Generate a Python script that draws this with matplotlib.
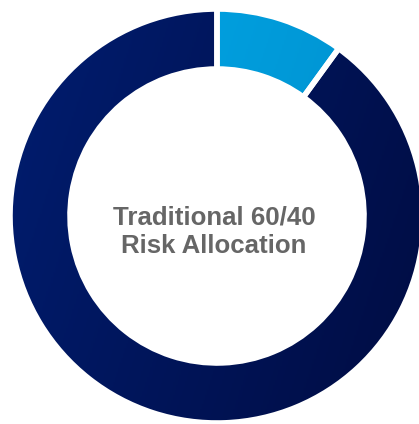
import numpy as np
import matplotlib.pyplot as plt
from matplotlib.colors import LinearSegmentedColormap
from matplotlib.patches import Wedge

labels = ["Bonds", "Equities"]
risk_share = [10, 90]
start_colors = ["#00aaeb", "#001d70"]
end_colors = ["#008bc8", "#000c42"]
center_text = "Traditional 60/40\nRisk Allocation"

W, H = 419, 424
fig = plt.figure(figsize=(W / 100, H / 100), dpi=100)
ax = fig.add_axes([0, 0, 1, 1])

cx, cy, r = 217, H - 216, 207
wedges, _ = ax.pie(risk_share, center=(cx, cy), radius=r, startangle=90,
                   counterclock=False, frame=True,
                   wedgeprops=dict(width=60, edgecolor="white", linewidth=4))
ax.set_xlim(0, W)
ax.set_ylim(0, H)
ax.set_aspect("equal")
ax.axis("off")

# gradient fill, left-top lighter to right-bottom darker
gx, gy = np.meshgrid(np.linspace(0, 1, 256), np.linspace(0, 1, 256))
grad = 0.75 * gx + 0.25 * (1 - gy)
for w, c0, c1 in zip(wedges, start_colors, end_colors):
    w.set_facecolor(c0)
    cmap = LinearSegmentedColormap.from_list("g", [c0, c1])
    im = ax.imshow(grad, cmap=cmap, extent=(cx - r, cx + r, cy - r, cy + r),
                   origin="lower", zorder=w.get_zorder() + 0.1)
    im.set_clip_path(w)
    edge = Wedge(w.center, w.r, w.theta1, w.theta2, width=w.width,
                 facecolor="none", edgecolor="white", linewidth=4,
                 zorder=w.get_zorder() + 0.2)
    ax.add_patch(edge)

ax.text(214, cy - 16, center_text, ha="center", va="center",
        fontsize=18.6, fontweight="bold", color="#666666",
        family=["Liberation Sans", "DejaVu Sans"], linespacing=1.25)

fig.savefig("out.png", dpi=100, facecolor="white")
